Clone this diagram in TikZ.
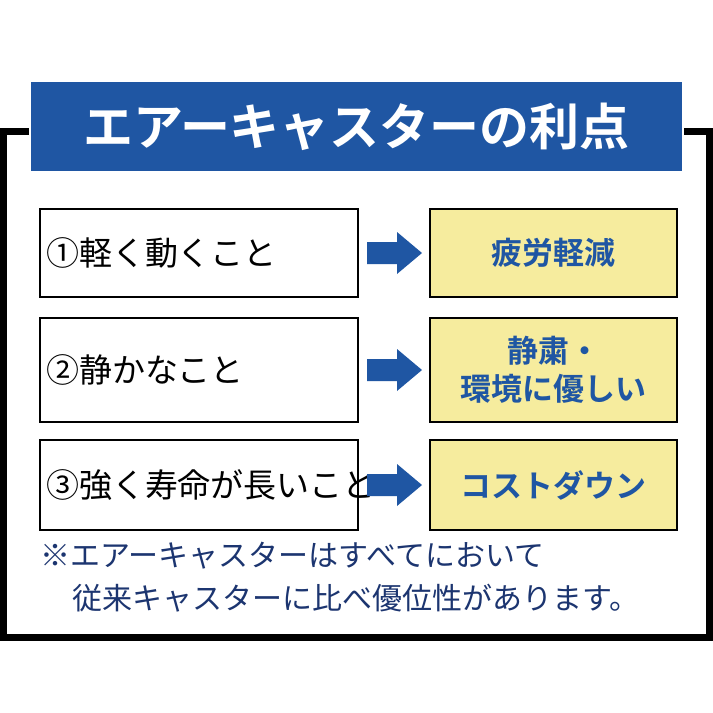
\documentclass[tikz,border=0pt]{standalone}
\usepackage{fontspec}
\setmainfont{Noto Sans CJK JP}
\newfontfamily\jpbold{Noto Sans CJK JP Bold}
\usetikzlibrary{positioning,calc}
\definecolor{banner}{HTML}{1F56A3}
\definecolor{pale}{HTML}{F6EC9E}
\definecolor{navy}{HTML}{1C3570}
\tikzset{
  item/.style={draw=black, line width=1.5pt, fill=white, minimum width=318pt, minimum height=88pt, inner sep=0pt, text width=306pt, align=left, font=\fontsize{33}{36}\selectfont},
  gain/.style={draw=black, line width=1.5pt, fill=pale, minimum width=247pt, minimum height=88pt, inner sep=0pt, align=center, text=banner, font=\jpbold\fontsize{31}{38}\selectfont},
  note/.style={text=navy, anchor=west, inner sep=0pt, font=\fontsize{30}{32}\selectfont}
}
\newcommand\pusharrow[1]{%
  \fill[banner] ($(#1)+(-27,-11)$) -- ++(30,0) -- ++(0,-10) -- ++(25,21)
    -- ++(-25,21) -- ++(0,-10) -- ++(-30,0) -- cycle;}
\begin{document}
\begin{tikzpicture}[x=1pt,y=-1pt]
  \useasboundingbox (0,0) rectangle (713,713);
  \fill[white] (0,0) rectangle (713,713);
  \draw[line width=7pt] (3.5,131.5) rectangle (709.5,637.5);
  \node [fill=banner, draw=white, line width=2pt, minimum width=653pt, minimum height=91pt, text=white, font=\jpbold\fontsize{50}{52}\selectfont] (title) at (356.5,126.5) {エアーキャスターの利点};

  \node [item] (a1) at (199,253) {①軽く動くこと};
  \node [item, minimum height=104pt] (a2) at (199,370) {②静かなこと};
  \node [item, minimum height=90pt] (a3) at (199,485) {③強く寿命が長いこと};

  \node [gain] (b1) at (553.5,253) {疲労軽減};
  \node [gain, minimum height=104pt] (b2) at (553.5,370) {静粛・\\環境に優しい};
  \node [gain, minimum height=90pt] (b3) at (553.5,485) {コストダウン};

  \foreach \i in {1,2,3}{
    \coordinate (p\i) at ($(a\i.east)!0.5!(b\i.west)$);
    \pusharrow{p\i}
  }

  \node [note] (n1) at (40,556) {※エアーキャスターはすべてにおいて};
  \node [note] (n2) at (72,598) {従来キャスターに比べ優位性があります。};
\end{tikzpicture}
\end{document}
